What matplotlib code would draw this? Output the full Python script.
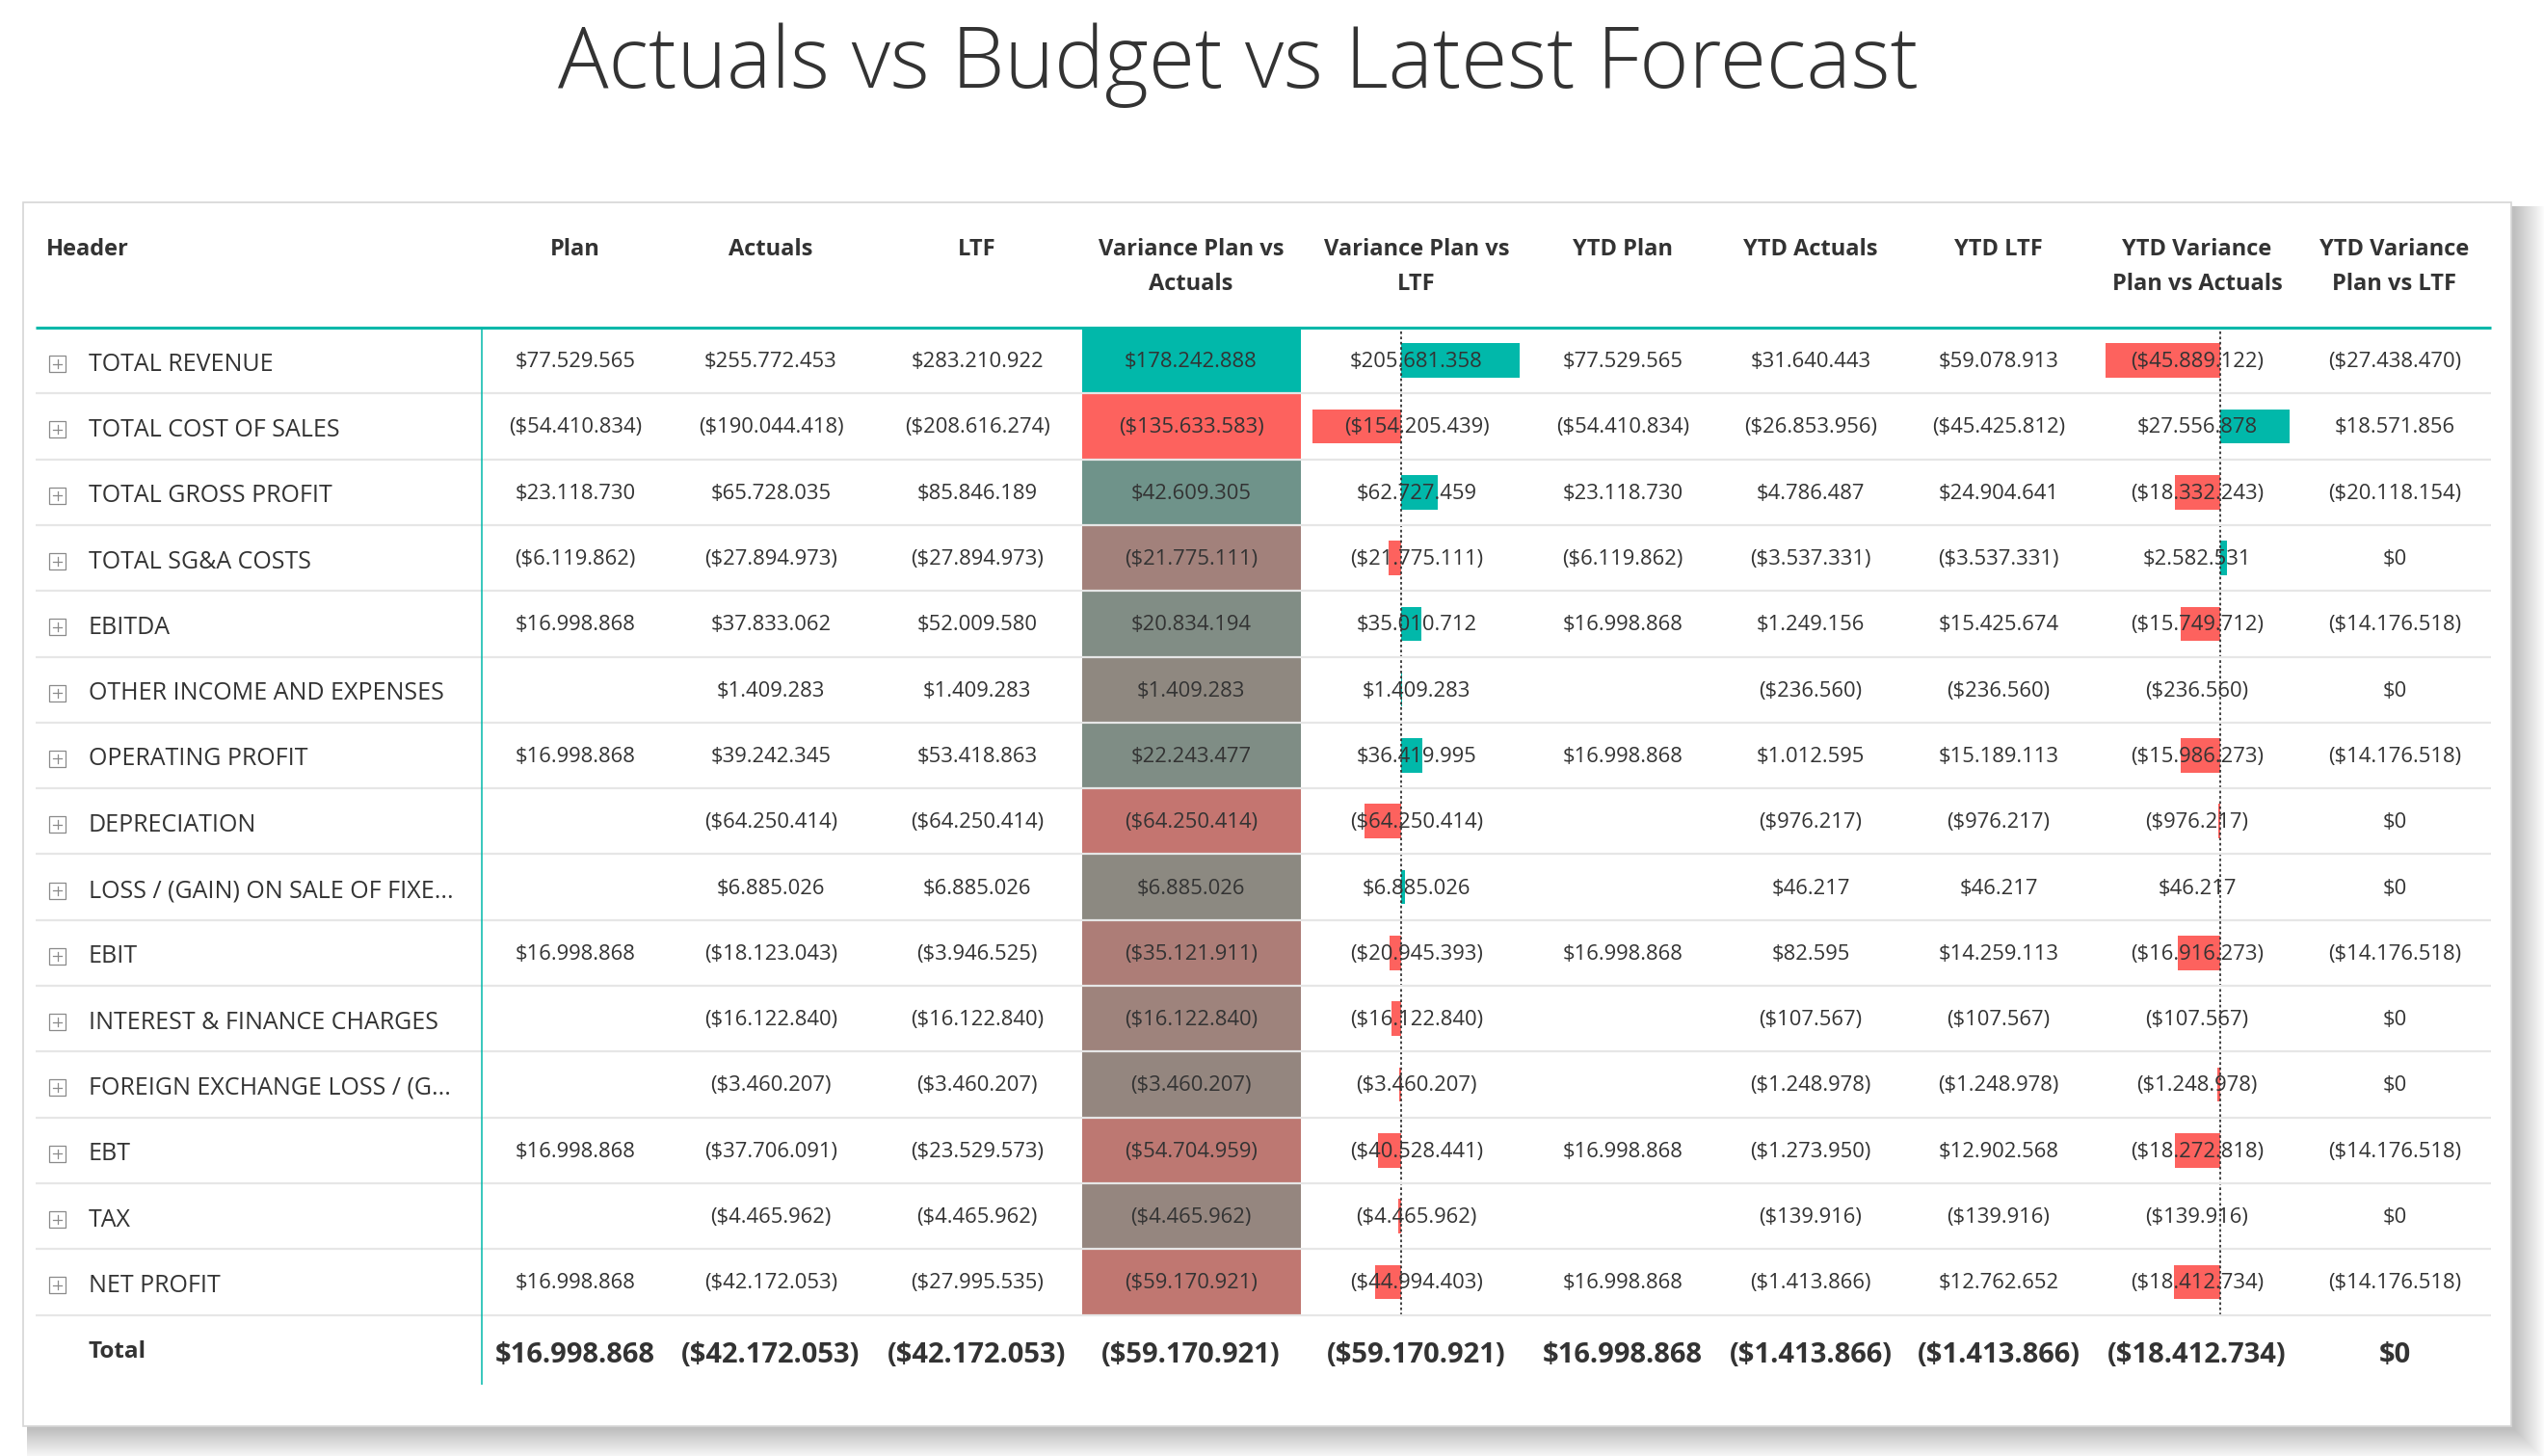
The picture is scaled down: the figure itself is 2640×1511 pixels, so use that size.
import numpy as np
import matplotlib
matplotlib.use("Agg")
from matplotlib import pyplot as plt
from matplotlib.patches import Rectangle
from matplotlib.colors import LinearSegmentedColormap, TwoSlopeNorm

plt.rcParams['font.family'] = ['Open Sans', 'DejaVu Sans']

# ---- data ----
row_labels = ["TOTAL REVENUE", "TOTAL COST OF SALES", "TOTAL GROSS PROFIT", "TOTAL SG&A COSTS",
              "EBITDA", "OTHER INCOME AND EXPENSES", "OPERATING PROFIT", "DEPRECIATION",
              "LOSS / (GAIN) ON SALE OF FIXE...", "EBIT", "INTEREST & FINANCE CHARGES",
              "FOREIGN EXCHANGE LOSS / (G...", "EBT", "TAX", "NET PROFIT"]

col_headers = ["Plan", "Actuals", "LTF", "Variance Plan vs\nActuals", "Variance Plan vs\nLTF",
               "YTD Plan", "YTD Actuals", "YTD LTF", "YTD Variance\nPlan vs Actuals",
               "YTD Variance\nPlan vs LTF"]

plan = [77529565, -54410834, 23118730, -6119862, 16998868, None, 16998868, None, None,
        16998868, None, None, 16998868, None, 16998868]
actuals = [255772453, -190044418, 65728035, -27894973, 37833062, 1409283, 39242345, -64250414,
           6885026, -18123043, -16122840, -3460207, -37706091, -4465962, -42172053]
ltf = [283210922, -208616274, 85846189, -27894973, 52009580, 1409283, 53418863, -64250414,
       6885026, -3946525, -16122840, -3460207, -23529573, -4465962, -27995535]
var_plan_act = [178242888, -135633583, 42609305, -21775111, 20834194, 1409283, 22243477, -64250414,
                6885026, -35121911, -16122840, -3460207, -54704959, -4465962, -59170921]
var_plan_ltf = [205681358, -154205439, 62727459, -21775111, 35010712, 1409283, 36419995, -64250414,
                6885026, -20945393, -16122840, -3460207, -40528441, -4465962, -44994403]
ytd_plan = [77529565, -54410834, 23118730, -6119862, 16998868, None, 16998868, None, None,
            16998868, None, None, 16998868, None, 16998868]
ytd_actuals = [31640443, -26853956, 4786487, -3537331, 1249156, -236560, 1012595, -976217,
               46217, 82595, -107567, -1248978, -1273950, -139916, -1413866]
ytd_ltf = [59078913, -45425812, 24904641, -3537331, 15425674, -236560, 15189113, -976217,
           46217, 14259113, -107567, -1248978, 12902568, -139916, 12762652]
ytd_var_plan_act = [-45889122, 27556878, -18332243, 2582531, -15749712, -236560, -15986273, -976217,
                    46217, -16916273, -107567, -1248978, -18272818, -139916, -18412734]
ytd_var_plan_ltf = [-27438470, 18571856, -20118154, 0, -14176518, 0, -14176518, 0,
                    0, -14176518, 0, 0, -14176518, 0, -14176518]

totals = [16998868, -42172053, -42172053, -59170921, -59170921, 16998868,
          -1413866, -1413866, -18412734, 0]

columns = [plan, actuals, ltf, var_plan_act, var_plan_ltf, ytd_plan, ytd_actuals,
           ytd_ltf, ytd_var_plan_act, ytd_var_plan_ltf]

# ---- layout (pixels) ----
W, H = 2640, 1511
row_top = 340
row_h = 68.3
n = len(row_labels)
col_x = [597, 800, 1014, 1236, 1470, 1684, 1879, 2074, 2280, 2485]
bar_cols = {4: (1362, 1577), 8: (2185, 2376)}
total_y = 1406

TEAL = "#01B8AA"
RED = "#FD625E"
TXT = "#333333"


def fmt(v):
    if v is None:
        return ""
    s = f"{abs(v):,}".replace(",", ".")
    return f"(${s})" if v < 0 else f"${s}"


def row_center(i):
    return row_top + (i + 0.5) * row_h


fig = plt.figure(figsize=(W / 100, H / 100), dpi=100)
fig.patch.set_facecolor("white")


def px_axes(x0, y0, x1, y1, z):
    a = fig.add_axes([x0 / W, 1 - y1 / H, (x1 - x0) / W, (y1 - y0) / H])
    a.set_zorder(z)
    a.patch.set_alpha(0)
    a.axis("off")
    return a


# background: card with shadow and heat-map cells
bg = px_axes(0, 0, W, H, 0)
bg.set_xlim(0, W)
bg.set_ylim(H, 0)
card = (24, 210, 2582, 1270)
for k in range(32):
    bg.add_patch(Rectangle((card[0] + 4, card[1] + 4), card[2] + k, card[3] + k,
                           facecolor="black", edgecolor="none", alpha=0.0085))
bg.add_patch(Rectangle(card[:2], card[2], card[3], facecolor="white", edgecolor="#D6D6D6", lw=1.2))

cmap = LinearSegmentedColormap.from_list("pbi", [RED, "#918780", TEAL])
vals = np.array(var_plan_act, dtype=float)
norm = TwoSlopeNorm(vmin=vals.min(), vcenter=0, vmax=vals.max())
for i, v in enumerate(vals):
    bg.add_patch(Rectangle((1123, row_top + i * row_h), 227, row_h,
                           facecolor=cmap(norm(v)), edgecolor="none"))

# data bars
for c, (x0, x1) in bar_cols.items():
    data = np.array(columns[c], dtype=float)
    ba = px_axes(x0, row_top, x1, row_top + n * row_h, 1)
    ba.set_xlim(data.min(), data.max())
    ba.set_ylim(n, 0)
    ba.barh(np.arange(n) + 0.5, data, height=0.52,
            color=[TEAL if v >= 0 else RED for v in data])
    ba.axvline(0, color="#333333", lw=1.3, ls=(0, (1.5, 1.5)))

# foreground: text and rules
ax = px_axes(0, 0, W, H, 2)
ax.set_xlim(0, W)
ax.set_ylim(H, 0)

ax.text(1285, 68, "Actuals vs Budget vs Latest Forecast", ha="center", va="center",
        fontsize=63, fontweight="light", color=TXT)

ax.text(48, 259, "Header", ha="left", va="center", fontsize=17, fontweight="bold", color=TXT)
for x, h in zip(col_x, col_headers):
    for j, line in enumerate(h.split("\n")):
        ax.text(x, 259 + 36 * j, line, ha="center", va="center", fontsize=17,
                fontweight="bold", color=TXT)

for i in range(n):
    y = row_top + (i + 1) * row_h
    ax.plot([37, 2585], [y, y], color="#E6E6E6", lw=1.6, solid_capstyle="butt")
ax.plot([37, 2585], [row_top, row_top], color=TEAL, lw=2.2, solid_capstyle="butt")
ax.plot([500, 500], [row_top, 1437], color=TEAL, lw=1.1, solid_capstyle="butt")

for i, lab in enumerate(row_labels):
    yc = row_center(i)
    ax.add_patch(Rectangle((51, yc - 5), 17, 17, facecolor="none", edgecolor="#8A8A8A", lw=0.9))
    ax.plot([55, 64], [yc + 3.5, yc + 3.5], color="#8A8A8A", lw=0.9)
    ax.plot([59.5, 59.5], [yc - 1, yc + 8], color="#8A8A8A", lw=0.9)
    ax.text(92, yc + 4, lab, ha="left", va="center", fontsize=18, color=TXT)
    for x, col in zip(col_x, columns):
        ax.text(x, yc + 1.5, fmt(col[i]), ha="center", va="center", fontsize=15.8, color=TXT)

ax.text(92, total_y - 3, "Total", ha="left", va="center", fontsize=17.5, fontweight="bold", color=TXT)
for x, t in zip(col_x, totals):
    ax.text(x, total_y, fmt(t), ha="center", va="center", fontsize=21, fontweight="bold", color=TXT)

fig.savefig("out.png", dpi=100, facecolor="white")
